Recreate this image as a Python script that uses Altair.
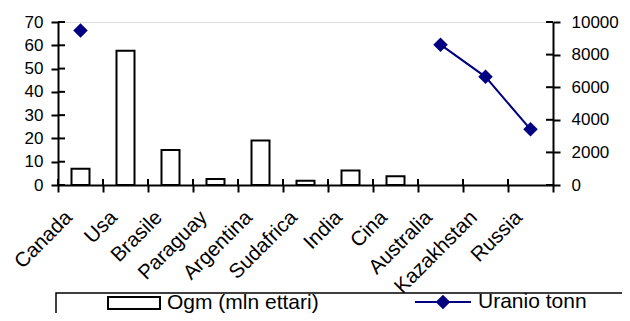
import altair as alt
import pandas as pd

paesi = ["Canada", "Usa", "Brasile", "Paraguay", "Argentina", "Sudafrica",
         "India", "Cina", "Australia", "Kazakhstan", "Russia"]
ogm = [7.0, 57.7, 15.0, 2.6, 19.1, 1.8, 6.2, 3.8, None, None, None]
uranio = [9476, None, None, None, None, None, None, None, 8611, 6637, 3413]
serie = ["Ogm (mln ettari)", "Uranio tonn"]
tick_sx = [0, 10, 20, 30, 40, 50, 60, 70]
tick_dx = [0, 2000, 4000, 6000, 8000, 10000]

df = pd.DataFrame({"paese": paesi, "ogm": ogm, "uranio": uranio})
df["s1"] = serie[0]
df["s2"] = serie[1]
df_tsx = pd.DataFrame({"ogm": tick_sx})
df_tdx = pd.DataFrame({"uranio": tick_dx})

FONT = "Liberation Sans"
NAVY = "#000080"

xaxis = alt.Axis(labelAngle=-45, labelAlign="right", labelBaseline="middle",
                 labelFontSize=20.5, labelOffset=-12, labelPadding=22,
                 tickBand="extent", tickSize=7, tickColor="black", tickWidth=2,
                 domainColor="black", domainWidth=2, labelColor="black",
                 labelFont=FONT, grid=False)
xscale = alt.Scale(paddingInner=0, paddingOuter=0)
xenc = alt.X("paese:N", sort=paesi, title=None, scale=xscale, axis=xaxis)

ysx = alt.Y("ogm:Q", title=None,
            scale=alt.Scale(domain=[0, 70], nice=False),
            axis=alt.Axis(values=tick_sx, tickSize=7, tickWidth=2, tickColor="black",
                          domainColor="black", domainWidth=2, labelFontSize=17,
                          labelPadding=8, labelColor="black", labelFont=FONT, grid=False))

ydx = alt.Y("uranio:Q", title=None,
            scale=alt.Scale(domain=[0, 10000], nice=False),
            axis=alt.Axis(orient="right", values=tick_dx, format="d", tickSize=7, tickWidth=2,
                          tickColor="black", domainColor="black", domainWidth=2,
                          labelFontSize=17, labelPadding=11, labelColor="black",
                          labelFont=FONT, grid=False))

base = alt.Chart(df).encode(x=xenc)

bars = base.transform_filter("datum.ogm != null").mark_bar(
    size=18, stroke="black", strokeWidth=2
).encode(
    y=ysx,
    fill=alt.Fill("s1:N", scale=alt.Scale(domain=[serie[0]], range=["white"]),
                  legend=alt.Legend(orient="none", legendX=49, legendY=254, title=None,
                                    symbolType="M-1,-0.23H1V0.23H-1Z", symbolSize=2704,
                                    symbolStrokeColor="black", symbolStrokeWidth=2,
                                    labelFontSize=21, labelFont=FONT, labelColor="black",
                                    labelOffset=6, padding=0)),
)

# inner half of the crossing tick marks
tick_sx_in = alt.Chart(df_tsx).mark_tick(
    orient="horizontal", size=7, thickness=2, color="black", opacity=1
).encode(x=alt.value(3.5), y=ysx)

tick_x_in = alt.Chart(df).mark_tick(
    orient="vertical", size=6, thickness=2, color="black", opacity=1
).encode(x=alt.X("paese:N", sort=paesi, title=None, scale=xscale, axis=xaxis,
                 bandPosition=0),
         y=alt.value(160))

linea = base.mark_line(color=NAVY, strokeWidth=2,
                       invalid="break-paths-show-domains").encode(y=ydx)

punti = base.transform_filter("datum.uranio != null").mark_point(
    shape="diamond", filled=True, size=210, opacity=1
).encode(
    y=ydx,
    color=alt.Color("s2:N", scale=alt.Scale(domain=[serie[1]], range=[NAVY]),
                    legend=alt.Legend(orient="none", legendX=356, legendY=251, title=None,
                                      symbolType="M-1,0H1M0,-0.21L0.21,0L0,0.21L-0.21,0Z",
                                      symbolSize=3136, symbolStrokeColor=NAVY,
                                      symbolFillColor=NAVY, symbolStrokeWidth=2,
                                      labelFontSize=21, labelFont=FONT, labelColor="black",
                                      labelOffset=6, padding=0)),
)

tick_dx_in = alt.Chart(df_tdx).mark_tick(
    orient="horizontal", size=7, thickness=2, color="black", opacity=1
).encode(x=alt.value(491.5), y=ydx)

riquadro = alt.Chart(pd.DataFrame({"k": [0]})).mark_rect(
    fill="white", stroke="black", strokeWidth=1.5
).encode(x=alt.value(-2), x2=alt.value(700), y=alt.value(271), y2=alt.value(400))

chart = alt.layer(
    alt.layer(bars, tick_sx_in, tick_x_in),
    alt.layer(linea, punti, tick_dx_in),
    riquadro
).resolve_scale(y="independent", fill="independent", color="independent").properties(
    width=495, height=163,
    autosize=alt.AutoSizeParams(type="none"),
    padding={"left": 50, "top": 14, "right": 69, "bottom": 128},
).configure_view(strokeWidth=0).configure(font=FONT)

chart.save("out.html", embed_options={"renderer": "svg", "actions": False})
